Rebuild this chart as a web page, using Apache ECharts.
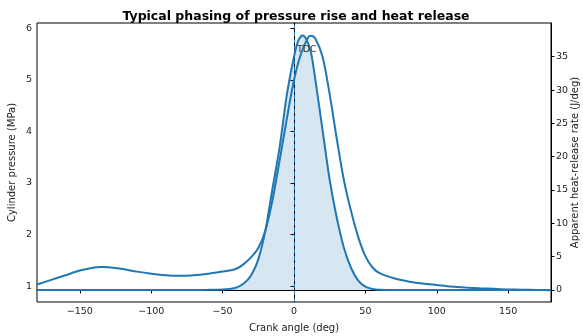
<!DOCTYPE html>
<html>
<head>
<meta charset="utf-8">
<script src="https://cdn.jsdelivr.net/npm/echarts@6/dist/echarts.min.js"></script>
<style>html,body{margin:0;padding:0;background:#fff}#c{width:583px;height:336px}</style>
</head>
<body>
<div id="c"></div>
<script>
// ---- data ----
const pressureAngles = [-180,-170,-160,-150,-140,-135,-130,-120,-110,-100,-90,-80,-70,-60,-50,-45,-40,-35,-30,-25,-20,-15,-10,-5,0,5,10,12,15,20,25,30,35,40,45,50,55,60,70,80,90,100,110,120,130,140,150,160,170,180];
const pressureValues = [1.03,1.12,1.21,1.30,1.36,1.37,1.365,1.33,1.28,1.24,1.21,1.20,1.21,1.24,1.28,1.30,1.34,1.43,1.56,1.74,2.08,2.68,3.45,4.25,5.00,5.52,5.83,5.86,5.80,5.45,4.72,3.85,3.05,2.45,1.95,1.58,1.36,1.25,1.15,1.09,1.05,1.02,0.99,0.97,0.955,0.945,0.935,0.93,0.925,0.92];

const heatAngles = [-180,-150,-120,-90,-70,-60,-50,-45,-40,-35,-30,-25,-20,-15,-10,-5,0,3,6,9,12,15,20,25,30,35,40,45,50,55,60,70,90,120,150,180];
const heatValues = [0,0,0,0,0,0.02,0.06,0.15,0.4,1.0,2.2,4.6,9.0,15.3,21.5,29.3,35.0,37.4,38.2,37.5,35.5,31.5,24.0,16.5,10.8,6.3,3.3,1.4,0.5,0.15,0.04,0,0,0,0,0];

const xTicks = [-150,-100,-50,0,50,100,150];
const pTicks = [1,2,3,4,5,6];
const hTicks = [0,5,10,15,20,25,30,35];

const titleText = 'Typical phasing of pressure rise and heat release';
const xName = 'Crank angle (deg)';
const pName = 'Cylinder pressure (MPa)';
const hName = 'Apparent heat-release rate (J/deg)';
const tdcLabel = 'TDC';

// ---- chart ----
const font = 'DejaVu Sans';
const blue = '#1f77b4';
const minus = v => String(v).replace('-', '\u2212');
const axisCommon = {
  axisLine: {show: true, lineStyle: {color: '#000', width: 1}},
  splitLine: {show: false},
  nameTextStyle: {fontFamily: font, fontSize: 10, color: '#222'}
};

const chart = echarts.init(document.getElementById('c'), null, {renderer: 'canvas'});
chart.setOption({
  animation: false,
  backgroundColor: '#fff',
  title: {
    text: titleText, left: 291, top: 5, textAlign: 'center',
    textStyle: {fontFamily: font, fontSize: 12.5, fontWeight: 'bold', color: '#000'}
  },
  grid: {left: 37, right: 32, top: 23, bottom: 34, show: true, borderColor: '#000', borderWidth: 1,
         containLabel: false, outerBoundsMode: 'none'},
  xAxis: Object.assign({}, axisCommon, {
    type: 'value', min: -180, max: 180,
    name: xName, nameLocation: 'middle', nameGap: 21,
    axisTick: {show: true, length: 3.5, lineStyle: {color: '#000'}, customValues: xTicks},
    axisLabel: {customValues: xTicks, formatter: minus, fontFamily: font, fontSize: 9.5, color: '#222', margin: 5}
  }),
  yAxis: [
    Object.assign({}, axisCommon, {
      type: 'value', min: 0.69, max: 6.107, position: 'left',
      name: pName, nameLocation: 'middle', nameGap: 20, nameMoveOverlap: false,
      axisTick: {show: true, length: 3.5, lineStyle: {color: '#000'}, customValues: pTicks},
      axisLabel: {customValues: pTicks, fontFamily: font, fontSize: 9.5, color: '#222', margin: 5}
    }),
    Object.assign({}, axisCommon, {
      type: 'value', min: -1.8, max: 40.06, position: 'right',
      name: hName, nameLocation: 'middle', nameGap: 19, nameRotate: 90, nameMoveOverlap: false,
      axisTick: {show: true, length: 3.5, lineStyle: {color: '#000'}, customValues: hTicks},
      axisLabel: {customValues: hTicks, fontFamily: font, fontSize: 9.5, color: '#222', margin: 5}
    })
  ],
  series: [
    {
      name: 'pressure', type: 'line', yAxisIndex: 0, showSymbol: false,
      smooth: 0.3,
      lineStyle: {color: blue, width: 2}, itemStyle: {color: blue},
      data: pressureAngles.map((a, i) => [a, pressureValues[i]]),
      markLine: {
        silent: true, symbol: 'none', label: {show: false},
        lineStyle: {color: blue, type: [4, 3], width: 1},
        data: [{xAxis: 0}]
      },
      markPoint: {
        silent: true, symbol: 'rect', symbolSize: [1, 1],
        itemStyle: {color: 'rgba(0,0,0,0)'},
        label: {show: true, formatter: tdcLabel, position: 'inside', fontFamily: font, fontSize: 9.5, color: '#333'},
        data: [{coord: [9, 5.6]}]
      }
    },
    {
      name: 'heat', type: 'line', yAxisIndex: 1, showSymbol: false,
      smooth: 0.3,
      lineStyle: {color: blue, width: 2}, itemStyle: {color: blue},
      areaStyle: {color: 'rgba(31,119,180,0.25)', origin: 0},
      data: heatAngles.map((a, i) => [a, heatValues[i]])
    }
  ]
});
</script>
</body>
</html>
